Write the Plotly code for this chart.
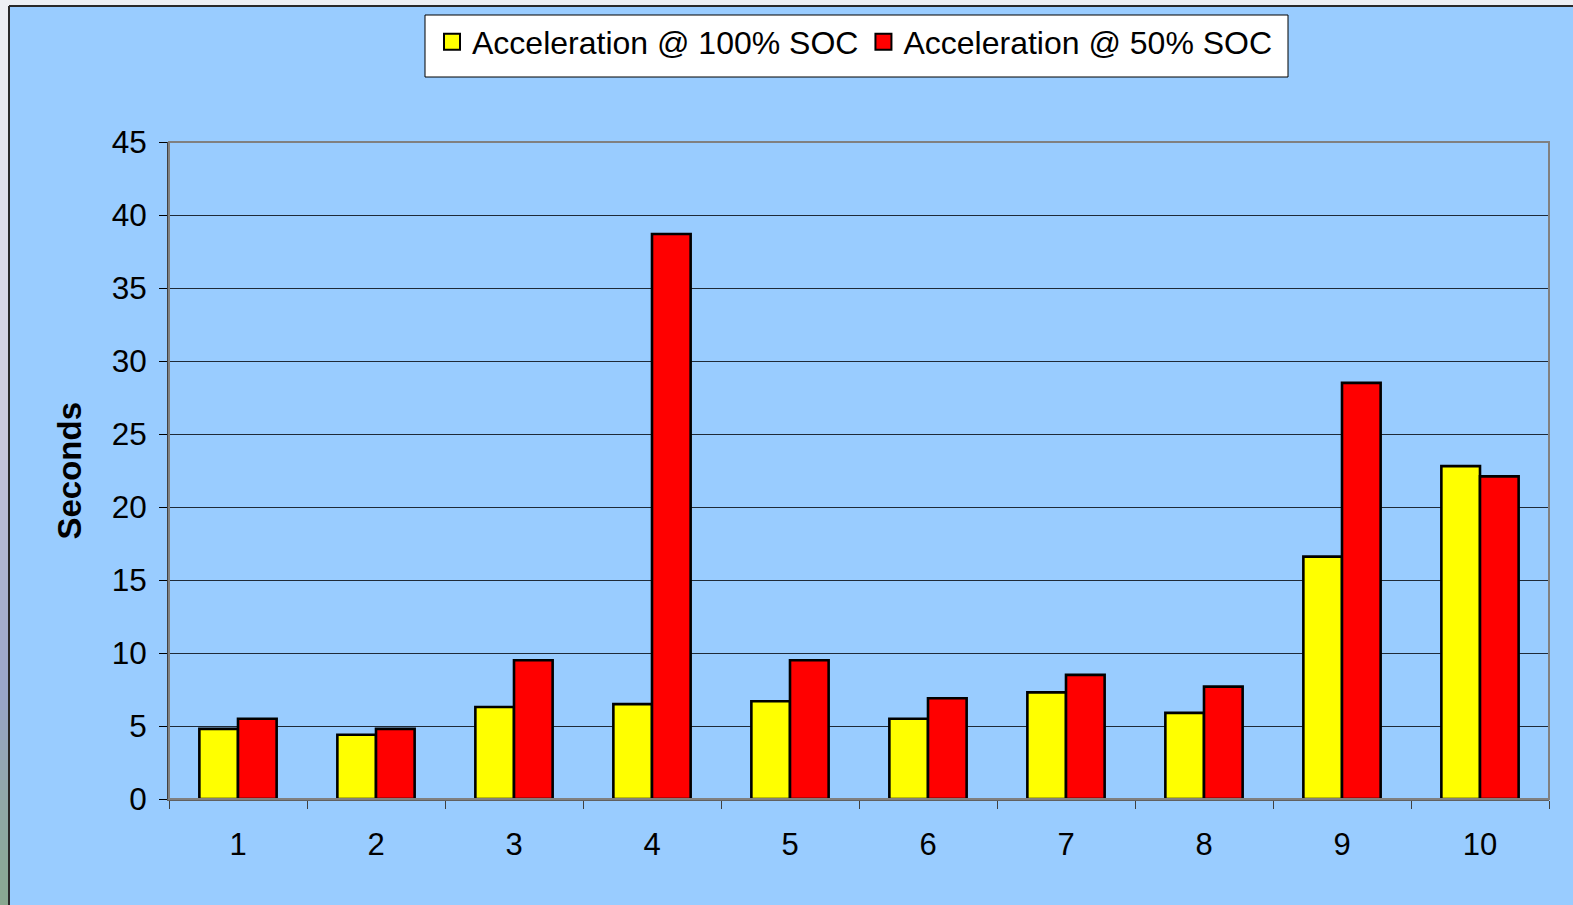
import plotly.graph_objects as go

# Test runs 1-10, acceleration time in seconds
runs = ["1", "2", "3", "4", "5", "6", "7", "8", "9", "10"]
accel_100_soc = [4.8, 4.4, 6.3, 6.5, 6.7, 5.5, 7.3, 5.9, 16.6, 22.8]
accel_50_soc = [5.5, 4.8, 9.5, 38.7, 9.5, 6.9, 8.5, 7.7, 28.5, 22.1]
y_ticks = [0, 5, 10, 15, 20, 25, 30, 35, 40, 45]
series_names = ["Acceleration @ 100% SOC", "Acceleration @ 50% SOC"]
series_colors = ["#FFFF00", "#FF0000"]

W, H = 1573, 905
L, R, T, B = 169, 24, 142, 106
FONT = "Liberation Sans, Arial, sans-serif"
BG = "#99CCFF"

fig = go.Figure()
for name, vals, color in zip(series_names, [accel_100_soc, accel_50_soc], series_colors):
    fig.add_trace(go.Bar(
        x=runs, y=vals, name=name, showlegend=False,
        marker=dict(color=color, line=dict(color="black", width=2.6)),
    ))
    # Legend entry with a larger square swatch
    fig.add_trace(go.Scatter(
        x=[None], y=[None], mode="markers", name=name, showlegend=True,
        marker=dict(symbol="square", size=17, color=color,
                    line=dict(color="black", width=2)),
    ))


# Convert a pixel position of the page into paper coordinates
def px_x(px):
    return (px - L) / (W - L - R)


def px_y(py):
    return (H - B - py) / (H - T - B)


shapes = []
# Window chrome: light strip across the top and a gradient strip on the left
shapes.append(dict(type="rect", xref="paper", yref="paper", layer="below",
                   x0=px_x(0), x1=px_x(W), y0=px_y(0), y1=px_y(6),
                   fillcolor="#EEF0F4", line=dict(width=0)))
stops = [(0, (238, 240, 244)), (300, (216, 216, 230)), (450, (198, 198, 220)),
         (600, (168, 176, 204)), (700, (152, 164, 200)), (800, (144, 168, 168)),
         (905, (136, 168, 144))]
step = 10
for y0 in range(0, H, step):
    yc = y0 + step / 2
    for (a, ca), (b, cb) in zip(stops[:-1], stops[1:]):
        if a <= yc <= b:
            t = (yc - a) / (b - a)
            c = tuple(round(ca[i] + (cb[i] - ca[i]) * t) for i in range(3))
            break
    shapes.append(dict(type="rect", xref="paper", yref="paper", layer="below",
                       x0=px_x(0), x1=px_x(8), y0=px_y(y0 + step), y1=px_y(y0),
                       fillcolor="rgb(%d,%d,%d)" % c, line=dict(width=0)))
# Dark window border
shapes.append(dict(type="line", xref="paper", yref="paper",
                   x0=px_x(9), x1=px_x(9), y0=px_y(6), y1=px_y(H),
                   line=dict(color="#2A2A2A", width=2)))
shapes.append(dict(type="line", xref="paper", yref="paper",
                   x0=px_x(9), x1=px_x(W), y0=px_y(6), y1=px_y(6),
                   line=dict(color="#2A2A2A", width=2)))
# Grey frame around the plot area
shapes.append(dict(type="rect", xref="x domain", yref="y domain", layer="above",
                   x0=0, x1=1, y0=0, y1=1, line=dict(color="#808080", width=2)))
# Legend box
shapes.append(dict(type="rect", xref="paper", yref="paper", layer="below",
                   x0=px_x(425), x1=px_x(1288), y0=px_y(77), y1=px_y(15),
                   fillcolor="white", line=dict(color="black", width=1)))

fig.update_layout(
    width=W, height=H,
    margin=dict(l=L, r=R, t=T, b=B, pad=0),
    paper_bgcolor=BG, plot_bgcolor=BG,
    font=dict(family=FONT, color="black"),
    barmode="group", bargap=0.44, bargroupgap=0,
    showlegend=True,
    legend=dict(
        orientation="h", x=px_x(855), xanchor="center", y=px_y(42), yanchor="middle",
        bgcolor="rgba(0,0,0,0)", borderwidth=0,
        font=dict(size=32, family=FONT), itemwidth=30,
    ),
    xaxis=dict(
        type="category", tickson="boundaries", ticks="outside", ticklen=8,
        tickcolor="#404040", tickwidth=1, showgrid=False, zeroline=False,
        showline=True, linecolor="#606060", linewidth=2,
        tickfont=dict(size=31, family=FONT), ticklabelstandoff=17,
    ),
    yaxis=dict(
        range=[0, 45], tickvals=y_ticks, ticks="outside", ticklen=8,
        tickcolor="black", tickwidth=1, showgrid=True, gridcolor="#1E2A38",
        gridwidth=1, zeroline=False, showline=True, linecolor="#404040",
        linewidth=2, tickfont=dict(size=31.5, family=FONT), ticklabelstandoff=6,
    ),
    shapes=shapes,
    annotations=[dict(
        text="<b>Seconds</b>", xref="paper", yref="paper",
        x=px_x(69), y=0.5, xanchor="center", yanchor="middle",
        textangle=-90, showarrow=False, font=dict(size=33, family=FONT),
    )],
)

fig.write_html("out.html")
